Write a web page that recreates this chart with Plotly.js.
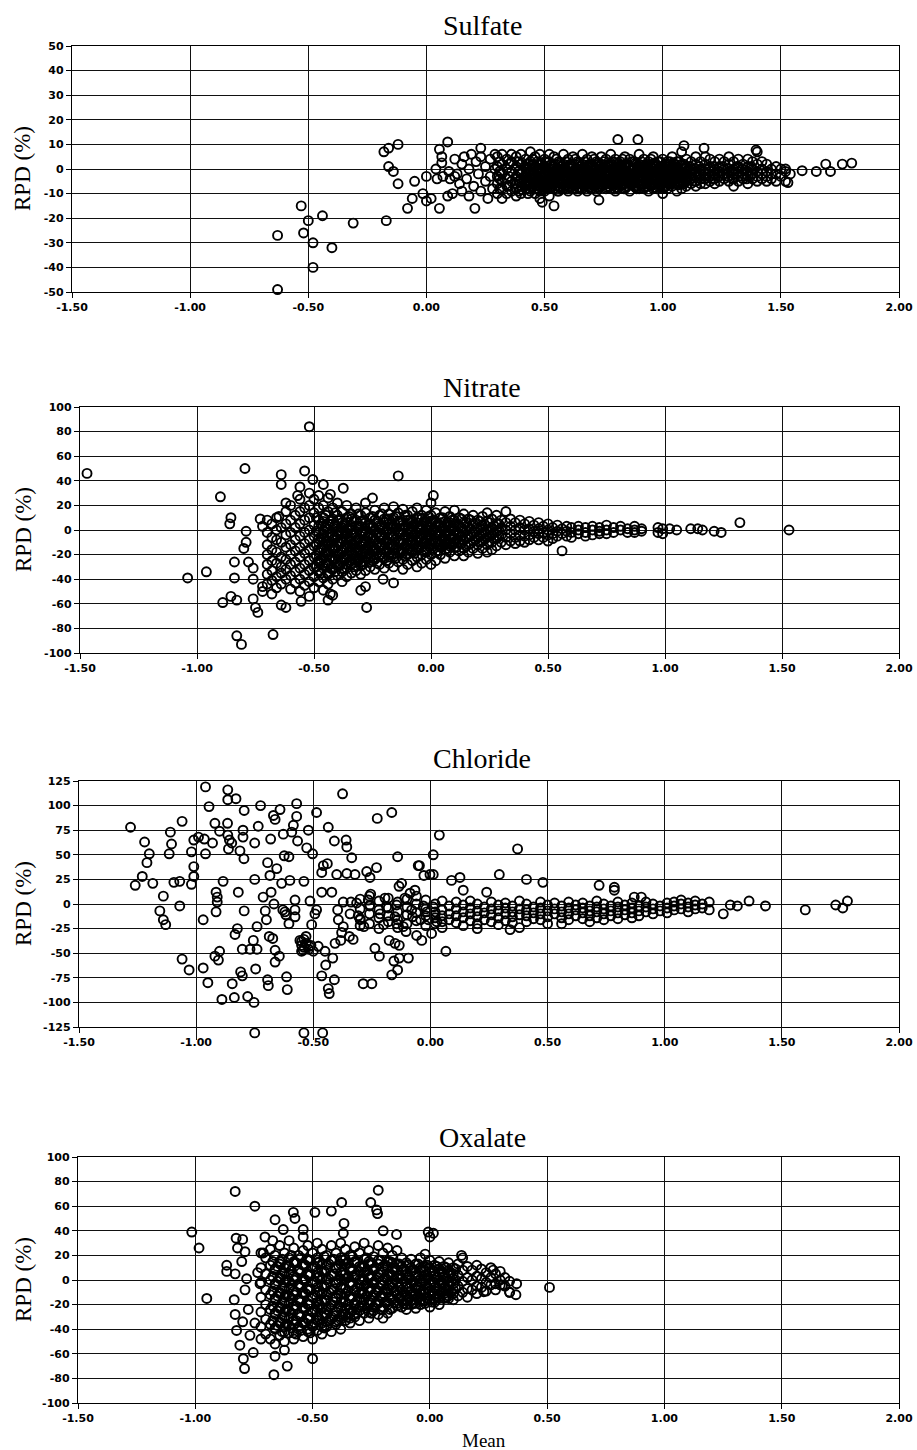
<!DOCTYPE html>
<html><head><meta charset="utf-8">
<script src="https://cdn.plot.ly/plotly-3.0.1.min.js"></script>
<style>html,body{margin:0;padding:0;background:#fff;}#chart{width:917px;height:1450px;}</style>
</head><body><div id="chart"></div>
<script>
// ---------- DATA ----------
const panelTitles = ["Sulfate", "Nitrate", "Chloride", "Oxalate"];
const xTickVals = [-1.5, -1.0, -0.5, 0.0, 0.5, 1.0, 1.5, 2.0];
const xTickText = ["-1.50", "-1.00", "-0.50", "0.00", "0.50", "1.00", "1.50", "2.00"];
const sulfateYTicks = [-50, -40, -30, -20, -10, 0, 10, 20, 30, 40, 50];
const nitrateYTicks = [-100, -80, -60, -40, -20, 0, 20, 40, 60, 80, 100];
const chlorideYTicks = [-125, -100, -75, -50, -25, 0, 25, 50, 75, 100, 125];
const oxalateYTicks = [-100, -80, -60, -40, -20, 0, 20, 40, 60, 80, 100];

// Sulfate: isolated points [mean, RPD]
const sulfatePoints = [
 [-0.63,-49],[-0.63,-27],[-0.53,-15],[-0.52,-26],[-0.50,-21],[-0.48,-30],[-0.48,-40],[-0.44,-19],[-0.40,-32],[-0.31,-22],
 [-0.18,7],[-0.16,8.5],[-0.12,10],[-0.17,-21],[-0.16,1],[-0.14,-1],[-0.12,-6],[-0.08,-16],[-0.06,-12],[-0.05,-5],
 [-0.015,-10],[0.0,-3],[0.0,-13],[0.02,-12],[0.04,0],[0.045,-4],[0.055,8],[0.055,-16],[0.065,5],[0.065,2.5],
 [0.09,11],[0.095,-1],[0.09,-11],[0.11,-10],[0.12,-3],[0.10,-4],[0.07,-3],
 [0.12,4],[0.13,-2],[0.14,-6],[0.15,2],[0.15,-9],[0.16,5],[0.17,-4],[0.18,0],[0.18,-11],[0.19,6],[0.20,-7],[0.21,3],
 [0.205,-16],[0.22,-2],[0.23,5],[0.23,-9],[0.23,8.5],[0.25,1],[0.25,-5],[0.26,-12],[0.27,4],[0.27,-3],[0.28,-8],[0.29,6],[0.29,0],
 [0.49,-13.5],[0.54,-15],[0.73,-12.6],[0.81,12],[0.895,12],[1.09,9.5],[1.175,8.5],[1.395,7.7],
 [1.52,0],[1.53,-5.5],[1.59,-0.7],[1.65,-1],[1.69,2],[1.71,-1],[1.76,2],[1.80,2.4]
];
// Sulfate: dense band, columns [mean, [RPD values]]
const sulfateColumns = [
 [0.30,[5,1,-3,-6,-10]],[0.31,[3,-1,-4,-8]],[0.32,[6,2,-2,-5,-8,-12]],[0.34,[4,0,-4,-7,-10]],[0.35,[2,-3,-7]],
 [0.36,[6,3,-1,-5,-9]],[0.38,[5,1,-3,-6,-8,-11]],[0.39,[3,-1,-5,-9]],[0.40,[6,2,-2,-4,-7,-10]],[0.42,[4,0,-3,-5,-8]],
 [0.43,[2,-2,-6,-10]],[0.44,[7,3,-1,-4,-6,-9]],[0.45,[4,0,-4,-7]],[0.46,[5,1,-2,-5,-8,-10]],[0.47,[3,-1,-5,-8]],
 [0.48,[6,2,0,-3,-6,-9,-12]],[0.49,[2,-3,-6]],[0.50,[4,1,-2,-4,-7,-9]],[0.51,[3,-1,-5,-8]],[0.52,[6,3,-1,-3,-6,-8,-11]],
 [0.53,[2,0,-4,-7]],[0.54,[5,2,-1,-4,-5,-8]],[0.55,[4,-1,-3,-7]],[0.56,[3,0,-2,-5,-7,-9]],[0.57,[2,-2,-5,-8]],
 [0.58,[6,2,-1,-3,-6,-8]],[0.59,[3,-1,-4,-7]],[0.60,[4,1,-2,-4,-7,-9]],[0.61,[2,0,-3,-6]],[0.62,[5,2,-1,-3,-5,-8]],
 [0.63,[4,-1,-4,-7]],[0.64,[3,0,-2,-4,-6,-9]],[0.65,[2,-2,-5,-8]],[0.66,[6,2,-1,-3,-6,-8]],[0.67,[3,0,-4,-7]],
 [0.68,[4,1,-2,-5,-7,-9]],[0.69,[2,-1,-3,-6]],[0.70,[5,2,0,-3,-5,-8]],[0.71,[4,1,-4,-7]],[0.72,[3,0,-2,-4,-6,-9]],
 [0.73,[2,-1,-3,-8]],[0.74,[5,2,-1,-3,-5,-7]],[0.75,[3,0,-4,-6]],[0.76,[4,1,-2,-4,-6,-8]],[0.77,[2,-1,-3,-7]],
 [0.78,[6,2,0,-2,-5,-8]],[0.79,[3,0,-4,-7]],[0.80,[4,1,-1,-3,-6,-9]],[0.81,[2,-1,-5,-8]],[0.82,[3,0,-2,-4,-7]],
 [0.83,[4,1,-3,-6]],[0.84,[5,2,-1,-3,-5,-8]],[0.85,[2,-1,-4,-7]],[0.86,[4,1,-2,-4,-6,-9]],[0.87,[3,0,-3,-6]],
 [0.88,[3,0,-2,-5,-7]],[0.89,[2,-1,-4,-8]],[0.90,[6,2,-1,-3,-5,-8]],[0.91,[3,0,-3,-7]],[0.92,[4,1,-2,-4,-6,-8]],
 [0.93,[2,-2,-5]],[0.94,[3,0,-1,-3,-5,-9]],[0.95,[4,1,-2,-7]],[0.96,[5,2,-1,-4,-6,-8]],[0.97,[2,-1,-4,-6]],
 [0.98,[3,0,-2,-4,-7]],[0.99,[3,0,-3,-7]],[1.00,[4,1,-1,-3,-5,-8,-10]],[1.01,[2,-1,-5]],[1.02,[3,0,-2,-4,-6,-8]],
 [1.03,[3,0,-3,-6]],[1.04,[5,1,-1,-3,-5,-7]],[1.05,[2,-2,-4]],[1.06,[3,0,-2,-4,-6,-9]],[1.07,[3,-1,-5]],
 [1.08,[7,2,-1,-3,-5,-8]],[1.09,[2,0,-3,-6]],[1.10,[4,1,-1,-3,-5,-7]],[1.12,[3,0,-2,-4,-6]],[1.14,[5,2,-1,-3,-5,-7]],
 [1.16,[3,0,-2,-4,-6]],[1.18,[5,2,0,-2,-4,-6]],[1.20,[4,1,-1,-3,-5]],[1.22,[3,0,-2,-4,-6]],[1.24,[4,1,-1,-3,-5]],
 [1.26,[3,0,-2,-4]],[1.28,[5,2,-1,-3,-5]],[1.30,[3,0,-2,-4,-7]],[1.32,[4,1,-1,-3,-5]],[1.34,[2,0,-2,-4]],
 [1.36,[4,1,-1,-3,-6]],[1.38,[3,0,-2,-4]],[1.40,[7,2,-1,-3,-5]],[1.42,[3,0,-2,-4]],[1.44,[2,-1,-3,-5]],
 [1.46,[0,-2,-4]],[1.48,[1,-2,-5]],[1.50,[0,-3]],[1.52,[-1,-5]],[1.54,[-2]]
];
// Sulfate: extra points in the solid black core
const sulfateCore = [
 [0.415,[1,-3,-6]],[0.435,[-1,-5,-8]],[0.455,[2,-2,-6]],[0.475,[0,-4,-7]],[0.495,[1,-2,-5,-8]],[0.515,[-1,-4,-7]],
 [0.535,[1,-2,-6]],[0.555,[0,-3,-5,-9]],[0.575,[1,-2,-6]],[0.595,[-1,-4,-8]],[0.615,[1,-2,-5]],[0.635,[0,-3,-6,-8]],
 [0.655,[1,-1,-4]],[0.675,[-1,-3,-6]],[0.695,[1,-2,-5,-8]],[0.715,[0,-3,-6]],[0.735,[1,-1,-4,-7]],[0.755,[-1,-3,-5]],
 [0.775,[1,-2,-6]],[0.795,[0,-3,-5,-8]],[0.815,[1,-1,-4]],[0.835,[-1,-3,-6,-8]],[0.855,[1,-2,-5]],[0.875,[0,-3,-6]],
 [0.895,[1,-1,-4,-7]],[0.915,[-1,-3,-6]],[0.935,[1,-2,-5,-7]],[0.955,[0,-3,-6]],[0.975,[1,-1,-4,-8]],[0.995,[-1,-3,-6]],
 [1.015,[1,-2,-5,-7]],[1.035,[0,-3,-6]],[1.055,[1,-1,-4]],[1.075,[-1,-3,-6]],[1.095,[0,-2,-5]],[1.115,[1,-1,-4]],
 [1.135,[0,-3,-5]],[1.155,[1,-2]],[1.175,[-1,-4]],[1.195,[0,-3]],[1.215,[1,-2,-4]],[1.235,[-1,-3]],[1.255,[1,-2]],
 [1.275,[0,-3]],[1.295,[-1,-4]],[1.315,[1,-2]],[1.335,[0,-3]],[1.355,[-1,-4]],[1.375,[1,-2]]
];
const sulfateCore2 = [
 [0.405,[2.5,-1.5,-5.5,-8.5]],[0.425,[0.5,-3.5,-6.5]],[0.445,[1.5,-2.5,-7.5]],[0.465,[-0.5,-4.5,-6.5]],
 [0.485,[2.5,-1.5,-4.5,-7.5]],[0.505,[0.5,-2.5,-6.5]],[0.525,[1.5,-3.5,-7.5]],[0.545,[-0.5,-2.5,-5.5]],
 [0.565,[2.5,-1.5,-4.5,-7.5]],[0.585,[0.5,-3.5,-6.5]],[0.605,[1.5,-2.5,-7.5]],[0.625,[-0.5,-4.5,-6.5]],
 [0.645,[2.5,-1.5,-4.5,-7.5]],[0.665,[0.5,-2.5,-6.5]],[0.685,[1.5,-3.5,-7.5]],[0.705,[-0.5,-2.5,-5.5]],
 [0.725,[2.5,-1.5,-4.5,-7.5]],[0.745,[0.5,-3.5,-6.5]],[0.765,[1.5,-2.5,-7.5]],[0.785,[-0.5,-4.5,-6.5]],
 [0.805,[2.5,-1.5,-4.5,-7.5]],[0.825,[0.5,-2.5,-6.5]],[0.845,[1.5,-3.5,-7.5]],[0.865,[-0.5,-2.5,-5.5]],
 [0.885,[2.5,-1.5,-4.5,-7.5]],[0.905,[0.5,-3.5,-6.5]],[0.925,[1.5,-2.5,-7.5]],[0.945,[-0.5,-4.5,-6.5]],
 [0.965,[2.5,-1.5,-4.5,-7.5]],[0.985,[0.5,-2.5,-6.5]],[1.005,[1.5,-3.5,-7.5]],[1.025,[-0.5,-2.5,-5.5]],
 [1.045,[2.5,-1.5,-4.5]],[1.065,[0.5,-3.5,-6.5]],[1.085,[1.5,-2.5,-5.5]],[1.105,[-0.5,-3.5]]
];

// Nitrate
const nitratePoints = [
 [-1.47,46],[-1.04,-39],[-0.96,-34],[-0.90,27],[-0.86,5],[-0.855,10],[-0.89,-59],[-0.855,-54],[-0.84,-39],[-0.84,-26],
 [-0.83,-86],[-0.81,-93],[-0.83,-57],[-0.795,50],[-0.79,-1],[-0.79,-10],[-0.80,-15],[-0.78,-26],[-0.76,-31],[-0.76,-40],
 [-0.76,-56],[-0.75,-63],[-0.74,-67],[-0.72,-46],[-0.72,-50],[-0.675,-85],[-0.73,9],[-0.72,3],[-0.64,45],[-0.64,37],
 [-0.65,11],[-0.62,22],[-0.64,-61],[-0.62,-63],[-0.555,-58],[-0.54,48],[-0.52,84],[-0.56,35],[-0.57,28],[-0.505,41],
 [-0.52,-54],[-0.46,37],[-0.43,29],[-0.43,-52],[-0.44,-57],[-0.375,34],[-0.275,-63],[-0.28,-46],[-0.30,-49],[-0.25,26],
 [-0.14,44],[-0.205,-40],[-0.16,-43],[0.01,28],[0.56,-17],[1.32,6],[1.53,0]
];
const nitrateColumns = [
 [-0.70,[8,-2,-12,-20,-28,-36,-44]],[-0.68,[5,-6,-16,-25,-33,-41,-52]],[-0.66,[10,0,-8,-18,-27,-38,-47]],
 [-0.64,[2,-10,-22,-30,-35,-44]],[-0.62,[15,5,-4,-14,-24,-32,-40]],[-0.60,[20,8,-2,-12,-20,-28,-37,-48]],
 [-0.58,[12,2,-8,-17,-26,-34,-43]],[-0.56,[25,15,5,-5,-14,-22,-31,-40,-50]],[-0.54,[18,8,-2,-11,-19,-28,-36,-45]],
 [-0.52,[30,20,10,0,-8,-16,-25,-33,-42]],[-0.50,[25,14,4,-5,-13,-22,-30,-38,-47]],[-0.48,[28,18,8,-2,-10,-18,-26,-34,-42]],
 [-0.46,[20,10,0,-7,-15,-23,-31,-39,-49]],[-0.44,[26,15,5,-4,-12,-20,-28,-36,-44]],[-0.42,[18,9,0,-8,-16,-24,-32,-40,-53]],
 [-0.40,[22,12,3,-5,-13,-21,-29,-37]],[-0.38,[15,6,-2,-10,-18,-26,-34,-42]],[-0.36,[20,10,1,-7,-15,-23,-31,-38]],
 [-0.34,[13,4,-4,-12,-20,-28,-35]],[-0.32,[18,8,-1,-9,-17,-25,-33]],[-0.30,[12,3,-5,-13,-21,-29,-36]],
 [-0.28,[22,14,6,-2,-10,-18,-26,-33]],[-0.26,[10,2,-6,-14,-22,-30]],[-0.24,[16,8,0,-8,-16,-24,-32]],
 [-0.22,[12,4,-4,-12,-20,-28]],[-0.20,[18,9,1,-7,-15,-23,-31]],[-0.18,[13,5,-3,-11,-19,-27]],
 [-0.16,[19,10,2,-6,-14,-22,-30]],[-0.14,[14,6,-2,-10,-18,-26]],[-0.12,[17,8,0,-8,-16,-24,-32]],
 [-0.10,[12,4,-4,-12,-20,-28]],[-0.08,[15,7,-1,-9,-17,-25]],[-0.06,[18,10,2,-6,-14,-22,-30]],
 [-0.04,[12,4,-4,-12,-20,-27]],[-0.02,[16,8,0,-8,-16,-24]],[0.00,[22,12,4,-4,-12,-20,-28]],
 [0.02,[14,6,-2,-10,-18,-25]],[0.04,[10,3,-5,-12,-20]],[0.06,[15,7,-1,-9,-16,-23]],[0.08,[11,3,-4,-11,-18]],
 [0.10,[16,8,0,-7,-14,-21]],[0.12,[10,3,-4,-11,-17]],[0.14,[13,6,-1,-8,-15,-21]],[0.16,[9,2,-5,-12,-18]],
 [0.18,[12,5,-2,-9,-15]],[0.20,[8,1,-6,-12,-19]],[0.22,[11,4,-3,-9,-15]],[0.24,[14,7,0,-6,-12,-18]],
 [0.26,[9,2,-4,-10,-16]],[0.28,[12,5,-1,-7,-13]],[0.30,[8,2,-4,-10]],[0.32,[15,6,0,-6,-12]],[0.34,[9,3,-3,-9]],
 [0.36,[6,0,-6,-11]],[0.38,[8,2,-4,-9]],[0.40,[5,0,-5,-10]],[0.42,[7,1,-4,-8]],[0.44,[4,-1,-6]],[0.46,[6,1,-3,-8]],
 [0.48,[3,-2,-6]],[0.50,[5,0,-4,-9]],[0.52,[2,-3,-7]],[0.54,[4,-1,-5]],[0.56,[1,-3]],[0.58,[3,-1,-5]],
 [0.60,[2,-2,-6]],[0.63,[3,0,-3]],[0.66,[2,-2,-5]],[0.69,[3,0,-4]],[0.72,[2,-1,-3]],[0.75,[4,0,-3]],[0.78,[2,-2]],
 [0.81,[3,0]],[0.84,[1,-2]],[0.87,[3,0,-2]],[0.90,[1,-1]],[0.97,[2,-2]],[0.99,[1,-3]],[1.02,[1]],[1.05,[0]],
 [1.11,[1]],[1.14,[1]],[1.16,[0]],[1.21,[-1]],[1.24,[-2]]
];
const nitrateCore = [
 [-0.49,[10,-1,-12,-21,-30]],[-0.47,[5,-6,-15,-25,-35]],[-0.45,[12,2,-9,-18,-27]],[-0.43,[7,-3,-13,-22,-31]],
 [-0.41,[14,4,-6,-15,-24,-34]],[-0.39,[9,-1,-11,-20,-29]],[-0.37,[5,-5,-14,-23,-32]],[-0.35,[11,1,-8,-17,-26]],
 [-0.33,[7,-3,-12,-21,-30]],[-0.31,[13,3,-7,-16,-25]],[-0.29,[8,-2,-11,-19,-28]],[-0.27,[4,-6,-15,-23]],
 [-0.25,[11,2,-7,-16,-25]],[-0.23,[7,-2,-11,-19,-27]],[-0.21,[13,4,-5,-13,-22]],[-0.19,[9,0,-9,-17,-25]],
 [-0.17,[5,-4,-12,-20]],[-0.15,[11,2,-7,-15,-23]],[-0.13,[7,-2,-10,-18]],[-0.11,[12,3,-5,-13,-21]],
 [-0.09,[8,-1,-9,-16]],[-0.07,[5,-4,-12,-19]],[-0.05,[10,2,-6,-14]],[-0.03,[7,-2,-10,-17]],[-0.01,[11,3,-5,-13]],
 [0.01,[8,0,-8,-15]],[0.03,[5,-3,-10,-17]],[0.05,[10,2,-6,-13]],[0.07,[6,-2,-9,-15]],[0.09,[8,1,-6,-12]],
 [0.11,[5,-2,-8,-14]],[0.13,[9,2,-5,-11]],[0.15,[6,-1,-7,-13]],[0.17,[8,1,-5,-11]],[0.19,[5,-2,-8]],
 [0.21,[7,1,-5,-10]],[0.23,[4,-2,-7]],[0.25,[6,0,-5,-10]],[0.27,[3,-2,-7]],[0.29,[5,0,-5]]
];
const nitrateCore2 = [
 [-0.48,[3,-7,-16,-25,-33]],[-0.46,[7,-3,-12,-21,-29]],[-0.44,[1,-9,-18,-27,-35]],[-0.42,[5,-5,-14,-23,-31]],
 [-0.40,[8,-1,-10,-19,-27]],[-0.38,[2,-7,-16,-24,-31]],[-0.36,[6,-3,-12,-20,-28]],[-0.34,[9,0,-9,-17,-25]],
 [-0.32,[3,-6,-14,-22,-29]],[-0.30,[7,-2,-10,-18,-26]],[-0.28,[1,-7,-15,-22]],[-0.26,[5,-3,-11,-19,-26]],
 [-0.24,[8,0,-8,-15,-23]],[-0.22,[2,-6,-14,-21]],[-0.20,[6,-2,-10,-18]],[-0.18,[9,1,-7,-15,-22]],
 [-0.16,[3,-5,-12,-19]],[-0.14,[7,-1,-9,-16]],[-0.12,[4,-4,-11,-19]],[-0.10,[8,0,-8,-15]],[-0.08,[3,-5,-12,-18]],
 [-0.06,[6,-2,-9,-16]],[-0.04,[9,1,-7,-14]],[-0.02,[4,-4,-11,-18]],[0.00,[7,0,-8,-15]],[0.02,[3,-4,-11]],
 [0.04,[6,-1,-8,-14]],[0.06,[3,-5,-11]],[0.08,[6,-1,-7,-13]],[0.10,[3,-4,-10]]
];

// Chloride
const chloridePoints = [
 [-1.28,78],[-1.26,19],[-1.23,28],[-1.22,63],[-1.21,42],[-1.20,51],[-1.185,21],[-1.155,-7],[-1.14,8],[-1.14,-16],
 [-1.13,-21],[-1.11,73],[-1.105,61],[-1.115,51],[-1.095,22],[-1.07,23],[-1.07,-2],[-1.06,84],[-1.06,-56],[-1.03,-67],
 [-1.02,53],[-1.01,38],[-1.01,28],[-1.02,20],[-1.01,65],[-0.99,68],[-0.97,-65],[-0.97,-16],[-0.965,66],[-0.96,119],
 [-0.96,51],[-0.95,-80],[-0.945,99],[-0.93,62],[-0.92,82],[-0.915,12],[-0.91,7],[-0.91,2],[-0.915,-8],[-0.92,-53],
 [-0.905,-57],[-0.90,-48],[-0.90,74],[-0.89,-97],[-0.885,23],[-0.865,116],[-0.865,106],[-0.866,82],[-0.865,70],[-0.858,65],
 [-0.862,56],[-0.848,62],[-0.846,-81],[-0.837,-95],[-0.83,107],[-0.834,-31],[-0.824,-25],[-0.82,12],[-0.813,54],[-0.81,-69],
 [-0.803,-73],[-0.803,-46],[-0.80,68],[-0.80,75],[-0.795,95],[-0.795,-7],[-0.796,46],[-0.78,-94],[-0.77,-46],[-0.756,-37],
 [-0.753,-100],[-0.75,25],[-0.75,62],[-0.746,-66],[-0.74,-46],[-0.74,-23],[-0.735,79],[-0.725,100],
 [-0.714,7],[-0.705,-7],[-0.70,-16],[-0.695,42],[-0.695,-77],[-0.692,-83],[-0.688,-33],[-0.682,66],[-0.685,29],[-0.68,12],
 [-0.673,-35],[-0.668,0],[-0.67,90],[-0.663,-47],[-0.663,86],[-0.663,-59],[-0.656,36],[-0.645,-53],[-0.642,96],[-0.635,21],
 [-0.63,-6],[-0.628,71],[-0.624,49],[-0.621,-8],[-0.617,-11],[-0.614,-74],[-0.611,-87],[-0.604,-20],[-0.604,48],[-0.60,24],
 [-0.592,73],[-0.585,80],[-0.578,4],[-0.578,-6],[-0.571,102],[-0.571,89],[-0.567,64],[-0.578,-13],[-0.557,-37],[-0.55,-42],
 [-0.543,-47],[-0.54,23],[-0.531,-33],[-0.528,57],[-0.521,75],[-0.517,-43],[-0.514,3],[-0.507,-21],[-0.503,51],[-0.493,-10],
 [-0.486,93],[-0.486,-6],[-0.479,-43],[-0.464,12],[-0.464,32],[-0.464,-73],[-0.457,39],[-0.45,-48],[-0.447,-62],[-0.44,41],
 [-0.436,78],[-0.436,-86],[-0.432,-91],[-0.421,12],[-0.417,-55],[-0.41,64],[-0.41,-77],[-0.407,-40],[-0.40,30],[-0.396,-6],
 [-0.393,-16],[-0.383,-37],[-0.379,-29],[-0.375,112],[-0.372,2],[-0.372,-23],[-0.36,65],[-0.357,58],[-0.357,31],[-0.346,-33],
 [-0.343,-10],[-0.339,2],[-0.336,47],[-0.33,-36],[-0.322,30],[-0.315,1],[-0.308,-12],[-0.30,-16],[-0.287,-81],[-0.284,-23],
 [-0.272,33],[-0.265,4],[-0.258,27],[-0.258,-1],[-0.255,10],[-0.25,-81],[-0.237,-45],[-0.23,37],[-0.227,87],[-0.218,-53],
 [-0.215,-10],[-0.20,-21],[-0.194,6],[-0.187,-3],[-0.176,-37],[-0.165,93],[-0.165,-72],[-0.156,-58],[-0.151,-40],[-0.151,-13],
 [-0.144,-1],[-0.144,-20],[-0.14,48],[-0.14,-67],[-0.134,18],[-0.133,-42],[-0.133,-55],[-0.123,21],[-0.116,-23],[-0.109,6],
 [-0.104,-28],[-0.094,-55],[-0.087,11],[-0.08,-6],[-0.076,-13],[-0.066,14],[-0.059,-32],[-0.052,39],[-0.047,39],[-0.042,-16],
 [-0.037,-37],[-0.03,-2],[-0.028,29],[-0.016,-8],[-0.009,-16],[-0.002,30],[0.005,-30],[0.012,50],[0.012,30],[0.012,-3],
 [0.02,-11],[0.027,-18],[0.038,70],[0.066,-48],[0.09,24],[0.126,27],[0.14,14],[0.24,12],[0.294,30],[0.34,-26],
 [0.372,56],[0.41,25],[0.48,22],[0.72,19],[0.785,17],[0.785,14],[0.87,7],[0.90,7],
 [-0.55,-38],[-0.54,-44],[-0.53,-40],[-0.52,-46],[-0.51,-42],[-0.50,-48],[-0.55,-48],[-0.54,-36]
];
// Chloride points that sit just below the -125 axis line in the reference
const chlorideBelowAxis = [[-0.75,-131],[-0.54,-131],[-0.46,-131]];
const chlorideColumns = [
 [-0.30,[5,-5,-15,-22]],[-0.26,[8,-2,-10,-20]],[-0.22,[3,-6,-14,-25]],[-0.18,[6,-4,-12,-18]],[-0.14,[2,-8,-16,-24]],
 [-0.10,[5,-3,-11,-20]],[-0.06,[8,0,-9,-17]],[-0.02,[4,-5,-12,-22]],[0.02,[0,-8,-14,-20]],[0.05,[3,-6,-12,-18,-24]],
 [0.08,[-2,-10,-16]],[0.11,[2,-5,-12,-19]],[0.14,[-1,-8,-14,-22]],[0.17,[3,-4,-10,-17]],[0.20,[0,-7,-13,-20,-25]],
 [0.23,[-3,-9,-16]],[0.26,[2,-5,-11,-18]],[0.29,[-1,-7,-14,-21]],[0.32,[1,-4,-10,-17]],[0.35,[-2,-8,-13,-19]],
 [0.38,[3,-5,-11,-24]],[0.41,[0,-6,-12,-18]],[0.44,[-3,-9,-15]],[0.47,[2,-4,-10,-16]],[0.50,[-1,-7,-13,-20]],
 [0.53,[1,-5,-10]],[0.56,[-2,-8,-14,-20]],[0.59,[2,-4,-10,-16]],[0.62,[-1,-6,-12]],[0.65,[1,-4,-9,-15]],
 [0.68,[-2,-7,-12,-18]],[0.71,[3,-3,-8,-14]],[0.74,[0,-5,-10,-16]],[0.77,[-2,-7,-12]],[0.80,[2,-3,-9,-15]],
 [0.83,[-1,-6,-11]],[0.86,[1,-4,-9,-14]],[0.89,[-2,-7,-12]],[0.92,[2,-3,-8]],[0.95,[0,-5,-10]],[0.98,[-2,-7]],
 [1.01,[1,-4,-9]],[1.04,[2,-2,-6]],[1.07,[4,0,-5]],[1.10,[1,-3,-8]],[1.13,[3,-1,-5]],[1.16,[0,-4]],[1.19,[2,-6]],
 [1.25,[-10]],[1.28,[-1]],[1.31,[-2]],[1.36,[3]],[1.43,[-2]],[1.60,[-6]],[1.73,[-1]],[1.76,[-4]],[1.78,[3]]
];

// Oxalate
const oxalatePoints = [
 [-1.015,39],[-0.984,26],[-0.951,-15],[-0.83,72],[-0.746,60],[-0.866,12],[-0.866,7],[-0.83,5],[-0.834,-16],[-0.83,-28],
 [-0.824,-41],[-0.81,-53],[-0.795,-64],[-0.79,-72],[-0.798,-34],[-0.788,-8],[-0.826,34],[-0.82,26],[-0.798,33],[-0.788,23],
 [-0.802,15],[-0.781,1],[-0.774,-24],[-0.767,-45],[-0.753,-59],[-0.746,-35],[-0.734,6],[-0.724,-3],[-0.71,22],[-0.703,35],
 [-0.67,32],[-0.665,-77],[-0.66,49],[-0.66,-62],[-0.625,41],[-0.608,-70],[-0.582,55],[-0.575,50],[-0.54,41],[-0.49,55],
 [-0.50,-64],[-0.42,56],[-0.376,63],[-0.366,46],[-0.369,38],[-0.252,63],[-0.22,73],[-0.227,57],[-0.223,54],[-0.199,40],
 [-0.142,37],[-0.007,39],[0.015,38],[0.0,35],[0.51,-6],[0.37,-3],[0.367,-12],[0.34,-10],[0.31,-4],[0.27,8],
 [0.23,-9.5],[0.135,20]
];
const oxalateColumns = [
 [-0.72,[22,10,-2,-14,-26,-38,-48]],[-0.70,[18,5,-8,-20,-32,-44]],[-0.68,[25,12,0,-12,-24,-36,-48]],
 [-0.66,[20,8,-4,-16,-28,-40,-52]],[-0.64,[28,15,2,-10,-22,-34,-45]],[-0.62,[22,10,-2,-14,-26,-38,-50,-57]],
 [-0.60,[32,18,5,-7,-19,-31,-43]],[-0.58,[26,14,0,-12,-24,-36,-48]],[-0.56,[20,8,-4,-16,-28,-40]],
 [-0.54,[35,24,12,0,-10,-22,-34,-46]],[-0.52,[28,16,4,-8,-20,-32,-42]],[-0.50,[22,10,-2,-14,-26,-38,-48]],
 [-0.48,[30,18,6,-6,-18,-30,-41]],[-0.46,[25,13,1,-11,-23,-35,-44]],[-0.44,[20,8,-4,-16,-28,-38]],
 [-0.42,[28,16,4,-8,-20,-32,-42]],[-0.40,[22,10,-2,-14,-26,-36]],[-0.38,[30,18,6,-6,-18,-30,-40]],
 [-0.36,[25,13,1,-11,-23,-33]],[-0.34,[20,9,-3,-15,-27,-35]],[-0.32,[27,15,4,-8,-19,-30]],[-0.30,[22,11,0,-11,-22,-33]],
 [-0.28,[30,17,6,-5,-16,-27]],[-0.26,[24,13,2,-9,-20,-31]],[-0.24,[19,8,-3,-14,-25]],[-0.22,[28,16,5,-6,-17,-28]],
 [-0.20,[22,11,0,-11,-22,-31]],[-0.18,[26,15,4,-7,-18,-27]],[-0.16,[20,9,-2,-13,-23]],[-0.14,[24,13,2,-9,-19]],
 [-0.12,[18,8,-3,-13,-22]],[-0.10,[14,4,-6,-16,-24]],[-0.08,[17,7,-3,-12,-20]],[-0.06,[13,3,-7,-16,-23]],
 [-0.04,[18,8,-2,-11,-20]],[-0.02,[21,11,1,-8,-17]],[0.00,[16,6,-4,-13,-22]],[0.02,[12,3,-6,-15]],
 [0.04,[15,6,-3,-12,-20]],[0.06,[11,2,-7,-15]],[0.08,[14,5,-4,-13]],[0.10,[10,1,-8,-16]],[0.12,[13,4,-5,-13]],
 [0.14,[18,8,-1,-10]],[0.16,[11,2,-7,-14]],[0.18,[8,0,-8]],[0.20,[12,3,-5,-11]],[0.22,[9,1,-6]],[0.24,[6,-2,-9]],
 [0.26,[10,2,-4]],[0.28,[5,-3,-8]],[0.30,[7,0,-4]],[0.32,[2,-5]],[0.34,[-1,-10]]
];
const oxalateCore = [
 [-0.67,[15,3,-9,-21,-33]],[-0.65,[11,-1,-13,-25,-37]],[-0.63,[17,5,-7,-19,-31,-42]],[-0.61,[12,0,-12,-24,-36]],
 [-0.59,[20,8,-4,-15,-27,-39]],[-0.57,[14,2,-10,-21,-33,-44]],[-0.55,[18,6,-6,-18,-30,-41]],[-0.53,[12,0,-11,-23,-35]],
 [-0.51,[16,4,-8,-20,-31,-43]],[-0.49,[11,-1,-12,-24,-35]],[-0.47,[15,3,-9,-20,-32]],[-0.45,[19,7,-5,-16,-27,-39]],
 [-0.43,[13,1,-10,-22,-33]],[-0.41,[17,5,-7,-18,-29]],[-0.39,[12,0,-11,-22,-33]],[-0.37,[16,4,-7,-18,-28]],
 [-0.35,[14,2,-9,-20,-30]],[-0.33,[19,7,-4,-14,-25]],[-0.31,[15,4,-6,-17,-27]],[-0.29,[11,0,-10,-21]],
 [-0.27,[18,7,-3,-13,-23]],[-0.25,[14,3,-7,-17,-27]],[-0.23,[10,0,-10,-20]],[-0.21,[16,6,-4,-14,-24]],
 [-0.19,[12,2,-8,-18]],[-0.17,[15,5,-5,-15,-24]],[-0.15,[10,0,-9,-18]],[-0.13,[13,3,-6,-15]],[-0.11,[9,-1,-10,-19]],
 [-0.09,[12,2,-7,-15]],[-0.07,[8,-2,-11,-19]],[-0.05,[13,3,-6,-14]],[-0.03,[10,0,-9,-17]],[-0.01,[12,2,-7,-15]],
 [0.01,[8,-1,-10,-18]],[0.03,[11,2,-7,-14]],[0.05,[7,-2,-10]],[0.07,[10,1,-8,-14]],[0.09,[6,-2,-10]],[0.11,[9,0,-7]]
];
const oxalateCore2 = [
 [-0.66,[9,-3,-15,-27,-39]],[-0.64,[13,1,-11,-23,-35]],[-0.62,[6,-6,-18,-30,-42]],[-0.60,[11,-1,-13,-25,-37]],
 [-0.58,[15,3,-9,-21,-33,-43]],[-0.56,[8,-4,-16,-28,-38]],[-0.54,[13,1,-11,-23,-35]],[-0.52,[17,5,-7,-19,-31,-40]],
 [-0.50,[10,-2,-14,-26,-36]],[-0.48,[14,2,-10,-22,-33]],[-0.46,[7,-5,-17,-29,-38]],[-0.44,[12,0,-12,-24,-34]],
 [-0.42,[16,4,-8,-20,-30]],[-0.40,[9,-3,-15,-26,-34]],[-0.38,[13,1,-11,-22,-32]],[-0.36,[17,5,-7,-18,-28]],
 [-0.34,[10,-2,-13,-24,-31]],[-0.32,[14,2,-9,-20,-28]],[-0.30,[7,-4,-15,-25]],[-0.28,[11,0,-11,-21]],
 [-0.26,[15,4,-7,-18,-26]],[-0.24,[9,-2,-12,-22]],[-0.22,[13,2,-9,-19]],[-0.20,[7,-4,-14,-24]],
 [-0.18,[11,0,-10,-20]],[-0.16,[14,4,-6,-16]],[-0.14,[8,-2,-12,-21]],[-0.12,[11,1,-8,-17]],[-0.10,[7,-3,-12,-20]],
 [-0.08,[10,0,-9,-17]],[-0.06,[6,-4,-12,-19]],[-0.04,[10,1,-8,-16]],[-0.02,[7,-3,-11,-19]],[0.00,[10,0,-9,-16]],
 [0.02,[7,-2,-11,-18]],[0.04,[9,0,-8,-15]],[0.06,[6,-3,-11]],[0.08,[8,-1,-8,-15]],[0.10,[5,-3,-11]]
];

// ---------- BUILD ----------
function collect(points, columnSets) {
  const xs = [], ys = [];
  points.forEach(p => { xs.push(p[0]); ys.push(p[1]); });
  columnSets.forEach(cols => cols.forEach(c => c[1].forEach(v => { xs.push(c[0]); ys.push(v); })));
  return [xs, ys];
}
const datasets = [
  collect(sulfatePoints, [sulfateColumns, sulfateCore, sulfateCore2]),
  collect(nitratePoints, [nitrateColumns, nitrateCore, nitrateCore2]),
  collect(chloridePoints, [chlorideColumns]),
  collect(oxalatePoints, [oxalateColumns, oxalateCore, oxalateCore2])
];
const yTicks = [sulfateYTicks, nitrateYTicks, chlorideYTicks, oxalateYTicks];

const W = 917, H = 1450;
// plot-area pixel boxes [left, right, top, bottom]
const boxes = [[72, 899, 46, 292], [80, 899, 407, 653], [79, 899, 781, 1027], [78, 899, 1157, 1403]];
const titleY = [26, 387, 758, 1137];

const markerStyle = {symbol: 'circle', size: 9, color: 'rgba(255,255,255,0)', line: {color: '#000', width: 1.9}};
const tickFont = {family: 'DejaVu Sans', size: 11, color: '#000', weight: 'bold'};
const traces = [], layout = {
  width: W, height: H, margin: {l: 0, r: 0, t: 0, b: 0},
  paper_bgcolor: '#fff', plot_bgcolor: 'rgba(0,0,0,0)', showlegend: false, annotations: []
};
datasets.forEach((d, i) => {
  const n = i === 0 ? '' : String(i + 1);
  const b = boxes[i];
  traces.push({
    type: 'scatter', mode: 'markers', x: d[0], y: d[1],
    xaxis: 'x' + n, yaxis: 'y' + n, cliponaxis: false, hoverinfo: 'skip', marker: markerStyle
  });
  const yt = yTicks[i];
  const common = {
    showgrid: true, gridcolor: '#111', gridwidth: 1, zeroline: false,
    showline: true, mirror: true, linecolor: '#000', linewidth: 1.2,
    ticks: 'outside', ticklen: 5, tickcolor: '#000', tickwidth: 1,
    tickfont: tickFont, fixedrange: true
  };
  layout['xaxis' + n] = Object.assign({}, common, {
    domain: [b[0] / W, b[1] / W], anchor: 'y' + n,
    range: [xTickVals[0], xTickVals[xTickVals.length - 1]],
    tickmode: 'array', tickvals: xTickVals, ticktext: xTickText
  });
  layout['yaxis' + n] = Object.assign({}, common, {
    domain: [1 - b[3] / H, 1 - b[2] / H], anchor: 'x' + n,
    range: [yt[0], yt[yt.length - 1]],
    tickmode: 'array', tickvals: yt, ticktext: yt.map(v => String(v))
  });
  layout.annotations.push({
    text: panelTitles[i], xref: 'paper', yref: 'paper', x: 482 / W, y: 1 - titleY[i] / H,
    xanchor: 'center', yanchor: 'middle', showarrow: false,
    font: {family: 'Liberation Serif', size: 28, color: '#000'}
  });
  layout.annotations.push({
    text: 'RPD (%)', xref: 'paper', yref: 'paper', x: 23 / W, y: 1 - ((b[2] + b[3]) / 2) / H,
    xanchor: 'center', yanchor: 'middle', textangle: -90, showarrow: false,
    font: {family: 'Liberation Serif', size: 23, color: '#000'}
  });
});
// Chloride points below the axis line: same x axis, a hidden y axis with the same
// pixel scale extended a little further down.
const cb = boxes[2];
const ext = 1040;
const cScale = (cb[3] - cb[2]) / (chlorideYTicks[chlorideYTicks.length - 1] - chlorideYTicks[0]);
layout.yaxis5 = {
  domain: [1 - ext / H, 1 - cb[2] / H], anchor: 'x3', visible: false, fixedrange: true,
  range: [chlorideYTicks[chlorideYTicks.length - 1] - (ext - cb[2]) / cScale, chlorideYTicks[chlorideYTicks.length - 1]]
};
traces.push({
  type: 'scatter', mode: 'markers',
  x: chlorideBelowAxis.map(p => p[0]), y: chlorideBelowAxis.map(p => p[1]),
  xaxis: 'x3', yaxis: 'y5', cliponaxis: false, hoverinfo: 'skip', marker: markerStyle
});
layout.annotations.push({
  text: 'Mean', xref: 'paper', yref: 'paper', x: 484 / W, y: 1 - 1440 / H,
  xanchor: 'center', yanchor: 'middle', showarrow: false,
  font: {family: 'Liberation Serif', size: 19, color: '#000'}
});

Plotly.newPlot('chart', traces, layout, {staticPlot: true, displayModeBar: false});
</script>
</body></html>
